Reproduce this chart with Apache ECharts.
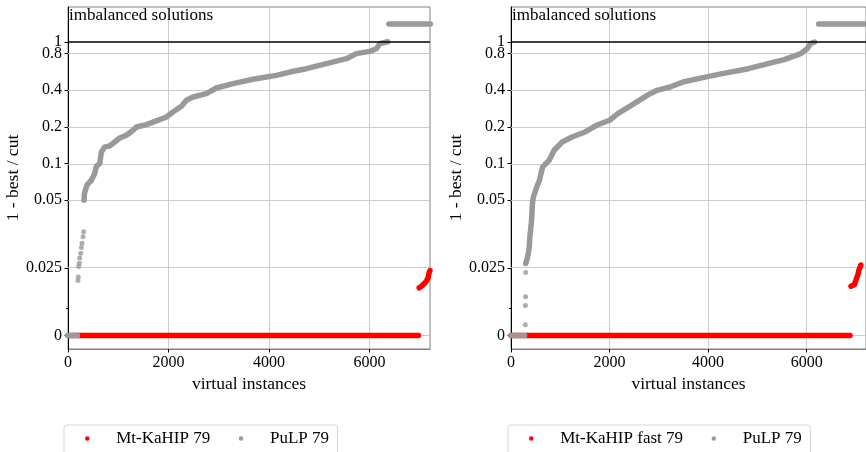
<!DOCTYPE html>
<html>
<head>
<meta charset="utf-8">
<script src="https://cdn.jsdelivr.net/npm/echarts@6/dist/echarts.min.js"></script>
<style>html,body{margin:0;padding:0;background:#fff;}#c{width:866px;height:452px;}</style>
</head>
<body>
<div id="c"></div>
<script>
// ---------- data (instance index, value of 1 - best/cut) ----------
const xMax = 7204;
const xTicks = [0, 2000, 4000, 6000];
const yTickValues = [0, 0.025, 0.05, 0.1, 0.2, 0.4, 0.8, 1];
const yTickLabels = ['0', '0.025', '0.05', '0.1', '0.2', '0.4', '0.8', '1'];
const yMinorTicks = [0.01];
const yLimits = [-0.005, 1.93];
const imbalancedLevel = 1.4;

const seriesNamesLeft = ['Mt-KaHIP 79', 'PuLP 79'];
const seriesNamesRight = ['Mt-KaHIP fast 79', 'PuLP 79'];

// left panel
const kahipZeroL = [[0, 0], [6975, 0]];
const kahipTailL = [[6990, 0.0176], [7035, 0.0182], [7080, 0.0190], [7130, 0.0200], [7165, 0.0213], [7185, 0.0231], [7204, 0.0240]];
const pulpZeroL = [[0, 0], [187, 0]];
const pulpDotsL = [[199, 0.0203], [205, 0.0216], [213, 0.0255], [225, 0.0267], [233, 0.0286], [253, 0.0304], [266, 0.0325], [279, 0.0341], [299, 0.0365], [312, 0.0383]];
const pulpCurveL = [[318, 0.05], [330, 0.0574], [378, 0.0664], [466, 0.073], [531, 0.0828], [565, 0.095], [631, 0.100], [665, 0.1245], [730, 0.137], [830, 0.1394], [929, 0.1503], [1029, 0.162], [1162, 0.1705], [1294, 0.1875], [1361, 0.1996], [1560, 0.209], [1759, 0.224], [1958, 0.241], [2090, 0.265], [2257, 0.295], [2356, 0.3305], [2488, 0.352], [2754, 0.375], [2953, 0.417], [3284, 0.453], [3682, 0.492], [3948, 0.513], [4147, 0.530], [4412, 0.564], [4744, 0.601], [5142, 0.661], [5540, 0.726], [5739, 0.799], [6004, 0.834], [6137, 0.877], [6203, 0.965], [6362, 1.0]];
const pulpImbalancedL = [[6385, imbalancedLevel], [7210, imbalancedLevel]];

// right panel
const kahipZeroR = [[0, 0], [6880, 0]];
const kahipTailR = [[6900, 0.0182], [6970, 0.0188], [7005, 0.0207], [7040, 0.0225], [7065, 0.0244], [7100, 0.0260]];
const pulpZeroR = [[0, 0], [275, 0]];
const pulpDotsR = [[290, 0.0040], [292, 0.0111], [295, 0.0143], [298, 0.0233]];
const pulpCurveR = [[300, 0.0266], [332, 0.0287], [352, 0.0305], [372, 0.0329], [384, 0.0367], [412, 0.0416], [424, 0.0447], [431, 0.0478], [443, 0.05], [455, 0.0532], [511, 0.0623], [577, 0.073], [642, 0.0938], [775, 0.1064], [875, 0.1286], [1040, 0.1503], [1239, 0.1652], [1505, 0.1817], [1736, 0.2062], [2002, 0.2267], [2167, 0.2571], [2499, 0.3107], [2763, 0.3632], [2962, 0.3993], [3227, 0.4249], [3493, 0.467], [3890, 0.508], [4288, 0.547], [4817, 0.601], [5215, 0.661], [5546, 0.713], [5879, 0.799], [6010, 0.877], [6077, 0.965], [6160, 0.995]];
const pulpImbalancedR = [[6242, imbalancedLevel], [7210, imbalancedLevel]];

// ---------- symlog scale (linthresh 0.05, linscale 1, base 10) ----------
const LINTHRESH = 0.05, LINADJ = 1 / (1 - 1 / 10);
function symlog(v) {
  const a = Math.abs(v);
  if (a <= LINTHRESH) return v / LINTHRESH * LINADJ;
  return Math.sign(v) * (LINADJ + Math.log10(a / LINTHRESH));
}
const tr = arr => arr.map(p => [p[0], symlog(p[1])]);
const labelFor = val => { const k = yTickValues.findIndex(v => Math.abs(symlog(v) - val) < 1e-6); return k >= 0 ? yTickLabels[k] : ''; };

const FONT = '"Liberation Serif", "Times New Roman", serif';
const RED = '#ff0000';
const GRAY = '#999999';
const GRIDC = '#cccccc';

const panels = [
  { left: 68, names: seriesNamesLeft, kz: kahipZeroL, kt: kahipTailL, pz: pulpZeroL, pd: pulpDotsL, pc: pulpCurveL, pi: pulpImbalancedL, legendLeft: 64 },
  { left: 511, names: seriesNamesRight, kz: kahipZeroR, kt: kahipTailR, pz: pulpZeroR, pd: pulpDotsR, pc: pulpCurveR, pi: pulpImbalancedR, legendLeft: 508 }
];

const grid = [], xAxis = [], yAxis = [], series = [], legend = [], graphic = [];
panels.forEach((p, i) => {
  grid.push({ left: p.left, top: 7, width: 362, height: 342, show: true, borderColor: '#808080', borderWidth: 1, backgroundColor: 'transparent' });
  xAxis.push({
    type: 'value', gridIndex: i, min: 0, max: xMax,
    name: 'virtual instances', nameLocation: 'middle', nameGap: 22,
    nameTextStyle: { fontFamily: FONT, fontSize: 17.5, color: '#000' },
    axisLine: { show: true, onZero: false, lineStyle: { color: '#808080', width: 1 } },
    axisTick: { show: true, length: 3.5, customValues: xTicks, lineStyle: { color: '#000' } },
    axisLabel: { customValues: xTicks, margin: 6, fontFamily: FONT, fontSize: 16, color: '#000', formatter: v => String(v), hideOverlap: false },
    splitLine: { show: false }
  });
  const mainLabelVals = yTickValues.filter(v => v < 1).map(symlog);
  yAxis.push({
    type: 'value', gridIndex: i, position: 'left', min: symlog(yLimits[0]), max: symlog(yLimits[1]),
    name: '1 - best / cut', nameLocation: 'middle', nameGap: 42,
    nameTextStyle: { fontFamily: FONT, fontSize: 17.5, color: '#000' },
    axisLine: { show: true, onZero: false, lineStyle: { color: '#000', width: 1 } },
    axisTick: { show: true, length: 3.5, customValues: yTickValues.map(symlog), lineStyle: { color: '#000' } },
    axisLabel: { customValues: mainLabelVals, margin: 6, fontFamily: FONT, fontSize: 16, color: '#000', formatter: labelFor, hideOverlap: false },
    splitLine: { show: false }
  });
  yAxis.push({
    type: 'value', gridIndex: i, position: 'left', offset: 0, min: symlog(yLimits[0]), max: symlog(yLimits[1]),
    axisLine: { show: false, onZero: false },
    axisTick: { show: true, length: 2, customValues: yMinorTicks.map(symlog), lineStyle: { color: '#000' } },
    axisLabel: { show: true, customValues: [symlog(1)], margin: 6, fontFamily: FONT, fontSize: 16, color: '#000', formatter: labelFor, hideOverlap: false },
    splitLine: { show: false }
  });
  const yi = 2 * i;
  // grid lines (below the data)
  series.push({
    type: 'line', xAxisIndex: i, yAxisIndex: yi, data: [[0, 0]], showSymbol: false, silent: true, z: 1,
    lineStyle: { width: 0 },
    markLine: {
      z: 1, symbol: 'none', silent: true, animation: false, label: { show: false },
      lineStyle: { color: GRIDC, width: 1, type: 'solid' },
      data: xTicks.filter(x => x > 0).map(x => ({ xAxis: x })).concat(yTickValues.filter(v => v < 1).map(v => ({ yAxis: symlog(v) })))
    }
  });
  const lineS = (name, data, color) => ({
    type: 'line', name, xAxisIndex: i, yAxisIndex: yi, data: tr(data), showSymbol: false, z: 2,
    lineStyle: { color, width: 5.5, cap: 'round', join: 'round' }, itemStyle: { color }, clip: true
  });
  series.push(lineS(p.names[0], p.kz, RED));
  series.push(lineS(p.names[0], p.kt, RED));
  series.push(lineS(p.names[1], p.pz, GRAY));
  series.push({ type: 'scatter', name: p.names[1], xAxisIndex: i, yAxisIndex: yi, data: tr(p.pd), symbolSize: 5, itemStyle: { color: GRAY }, z: 2 });
  series.push(lineS(p.names[1], p.pc, GRAY));
  series.push(lineS(p.names[1], p.pi, GRAY));
  // black line at 1
  series.push({
    type: 'line', xAxisIndex: i, yAxisIndex: yi, data: [[0, 0]], showSymbol: false, silent: true, z: 3,
    lineStyle: { width: 0 },
    markLine: { z: 3, symbol: 'none', silent: true, animation: false, label: { show: false }, lineStyle: { color: '#000', width: 1.5, type: 'solid' }, data: [{ yAxis: symlog(1) }] }
  });
  legend.push({
    data: p.names, left: p.legendLeft, top: 425, orient: 'horizontal', icon: 'circle',
    itemWidth: 40, itemHeight: 4.5, itemGap: 28.5, padding: [5, 8.5, 10, 21],
    backgroundColor: '#fff', borderColor: '#d5d5d5', borderWidth: 1, borderRadius: 3,
    textStyle: { fontFamily: FONT, fontSize: 17, color: '#000', padding: [0, 0, 0, 4] },
    selectedMode: false
  });
  graphic.push({ type: 'text', x: p.left + 1, y: 7, z: 10, style: { text: 'imbalanced solutions', font: '17px ' + FONT, fill: '#000', verticalAlign: 'top' } });
});

const chart = echarts.init(document.getElementById('c'), null, { renderer: 'canvas' });
chart.setOption({ animation: false, backgroundColor: '#fff', grid, xAxis, yAxis, series, legend, graphic });
</script>
</body>
</html>
